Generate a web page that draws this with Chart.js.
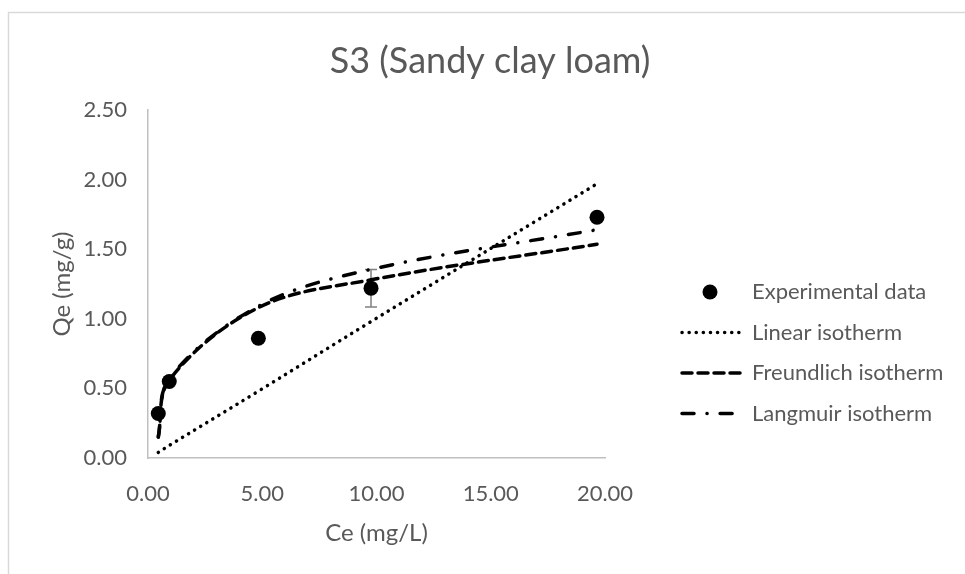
<!DOCTYPE html>
<html>
<head>
<meta charset="utf-8">
<script src="https://cdn.jsdelivr.net/npm/chart.js@4.4.1/dist/chart.umd.min.js"></script>
<style>
  html, body { margin: 0; padding: 0; background: #fff; }
  #wrap { position: relative; width: 965px; height: 574px; }
</style>
</head>
<body>
<div id="wrap"><canvas id="isotherm-chart" width="965" height="574"></canvas></div>
<script>
// Equilibrium concentration (mg/L) and adsorbed amount (mg/g)
const ce = [0.45, 0.93, 4.83, 9.76, 19.65];
const qeExperimental = [0.32, 0.55, 0.86, 1.22, 1.73];
const qeError = [0, 0, 0, 0.135, 0];
const qeLinear = [0.04, 0.09, 0.48, 0.98, 1.97];
const qeFreundlich = [0.15, 0.56, 1.08, 1.28, 1.535];
const qeLangmuir = [0.15, 0.57, 1.09, 1.355, 1.64];

const xTicks = [0, 5, 10, 15, 20];
const yTicks = [0, 0.5, 1, 1.5, 2, 2.5];
const seriesNames = ['Experimental data', 'Linear isotherm', 'Freundlich isotherm', 'Langmuir isotherm'];

const FONT = 'Lato, "Open Sans", sans-serif';
const TEXT = '#595959';

const toPoints = ys => ce.map((x, i) => ({ x: x, y: ys[i] }));

function lineSet(label, ys, dash) {
    return {
        label: label,
        data: toPoints(ys),
        showLine: true,
        borderColor: '#000',
        backgroundColor: '#000',
        borderWidth: 3.5,
        borderDash: dash,
        borderCapStyle: 'round',
        tension: 0.35,
        pointRadius: 0,
        pointHoverRadius: 0
    };
}

// frame, title, error bar and right-hand legend
const decorations = {
    id: 'decorations',
    beforeDraw(chart) {
        const ctx = chart.ctx;
        ctx.save();
        ctx.strokeStyle = '#d9d9d9';
        ctx.lineWidth = 1.5;
        ctx.beginPath();
        ctx.moveTo(8.5, 574);
        ctx.lineTo(8.5, 12.5);
        ctx.lineTo(965, 12.5);
        ctx.stroke();

        ctx.fillStyle = TEXT;
        ctx.font = '36px ' + FONT;
        ctx.textAlign = 'center';
        ctx.textBaseline = 'middle';
        ctx.fillText('S3 (Sandy clay loam)', 490, 61);
        ctx.restore();
    },
    beforeDatasetsDraw(chart) {
        const ctx = chart.ctx;
        const xs = chart.scales.x, ys = chart.scales.y;
        ctx.save();
        ctx.strokeStyle = '#808080';
        ctx.lineWidth = 1.5;
        ce.forEach((x, i) => {
            const err = qeError[i];
            if (!err) return;
            const px = xs.getPixelForValue(x);
            const top = ys.getPixelForValue(qeExperimental[i] + err);
            const bot = ys.getPixelForValue(qeExperimental[i] - err);
            ctx.beginPath();
            ctx.moveTo(px, top); ctx.lineTo(px, bot);
            ctx.moveTo(px - 6, top); ctx.lineTo(px + 6, top);
            ctx.moveTo(px - 6, bot); ctx.lineTo(px + 6, bot);
            ctx.stroke();
        });
        ctx.restore();
    },
    afterDraw(chart) {
        const ctx = chart.ctx;
        ctx.save();
        ctx.font = '22px ' + FONT;
        ctx.textBaseline = 'middle';
        ctx.textAlign = 'left';
        chart.data.datasets.forEach((ds, i) => {
            const y = 292 + i * 40.5;
            if (!ds.showLine) {
                ctx.fillStyle = '#000';
                ctx.beginPath();
                ctx.arc(710, y, 7.5, 0, Math.PI * 2);
                ctx.fill();
            } else {
                ctx.strokeStyle = '#000';
                ctx.lineWidth = ds.borderWidth;
                ctx.lineCap = 'round';
                ctx.setLineDash(ds.borderDash);
                ctx.beginPath();
                ctx.moveTo(682, y);
                ctx.lineTo(742, y);
                ctx.stroke();
                ctx.setLineDash([]);
            }
            ctx.fillStyle = TEXT;
            ctx.fillText(ds.label, 752, y);
        });
        ctx.restore();
    }
};

const chart = new Chart(document.getElementById('isotherm-chart'), {
    type: 'scatter',
    data: {
        datasets: [
            {
                label: seriesNames[0],
                data: toPoints(qeExperimental),
                showLine: false,
                pointRadius: 7.5,
                pointHoverRadius: 7.5,
                backgroundColor: '#000',
                borderColor: '#000',
                borderWidth: 0
            },
            lineSet(seriesNames[1], qeLinear, [0.1, 7]),
            lineSet(seriesNames[2], qeFreundlich, [10, 6]),
            lineSet(seriesNames[3], qeLangmuir, [12, 13, 0.1, 13])
        ]
    },
    options: {
        responsive: false,
        animation: false,
        clip: false,
        layout: { padding: { top: 110, right: 360, bottom: 0, left: 0 } },
        plugins: { legend: { display: false }, tooltip: { enabled: false } },
        scales: {
            x: {
                type: 'linear',
                min: 0,
                max: 20,
                afterBuildTicks: s => { s.ticks = xTicks.map(v => ({ value: v })); },
                afterFit: s => { s.height = 116; },
                grid: { display: false, drawTicks: false },
                border: { display: true, color: '#bfbfbf', width: 1.5 },
                ticks: {
                    padding: 23,
                    color: TEXT,
                    font: { family: FONT, size: 22 },
                    maxRotation: 0,
                    callback: v => v.toFixed(2)
                },
                title: {
                    display: true,
                    text: 'Ce (mg/L)',
                    color: TEXT,
                    font: { family: FONT, size: 24 },
                    padding: { top: 0, bottom: 26 }
                }
            },
            y: {
                type: 'linear',
                min: 0,
                max: 2.5,
                afterBuildTicks: s => { s.ticks = yTicks.map(v => ({ value: v })); },
                afterFit: s => { s.width = 148; },
                grid: { display: false, drawTicks: false },
                border: { display: true, color: '#bfbfbf', width: 1.5 },
                ticks: {
                    padding: 21,
                    color: TEXT,
                    font: { family: FONT, size: 22 },
                    callback: v => v.toFixed(2)
                },
                title: {
                    display: true,
                    text: 'Qe (mg/g)',
                    color: TEXT,
                    font: { family: FONT, size: 24 },
                    padding: { top: 48, bottom: 0 }
                }
            }
        }
    },
    plugins: [decorations]
});
</script>
</body>
</html>
